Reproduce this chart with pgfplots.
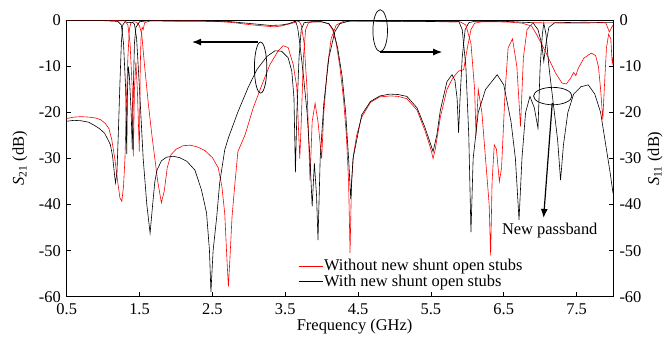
\documentclass[border=0pt]{standalone}
\usepackage{fontspec}
\setmainfont{Liberation Serif}
\usepackage{pgfplots}
\pgfplotsset{compat=1.18}
\usetikzlibrary{arrows.meta}
\begin{document}
\begin{tikzpicture}[font=\fontsize{16.5}{19}\selectfont]
\useasboundingbox (-66.7bp,-42bp) rectangle (601.3bp,296.7bp);
\begin{axis}[at={(0,0)}, anchor=south west, scale only axis,
  width=546.3bp, height=276.3bp,
  xmin=0.5, xmax=8, ymin=-60, ymax=0,
  xtick={0.5,1.5,...,7.5}, ytick={-60,-50,...,0},
  xtick pos=bottom, ytick pos=left,
  tick align=inside, major tick length=4.5bp,
  xticklabel style={/pgf/number format/fixed,/pgf/number format/precision=1,/pgf/number format/fixed zerofill, inner sep=0.5bp, yshift=-6bp},
  yticklabel style={inner sep=0.5bp, xshift=-5.2bp},
  /pgf/number format/assume math mode=true,
  axis line style={line width=0.8pt}, every tick/.style={line width=0.8pt,black},
  xlabel={Frequency (GHz)},
  xlabel style={at={(axis description cs:0.527,-0.108)}, anchor=center},
  ylabel={\textit{S}\textsubscript{21} (dB)},
  ylabel style={at={(axis description cs:-0.0855,0.5)}, anchor=center, rotate=0},
  clip=false,
  legend image code/.code={\draw[#1] (0bp,0bp) -- (24bp,0bp);},
  legend cell align=left,
  legend style={at={(axis cs:3.677,-51.6)}, anchor=north west, draw=none, fill=none,
    inner sep=0pt, row sep=0.5bp, nodes={inner sep=1.2bp},
    /tikz/every even column/.append style={column sep=1bp}},
]
% red S21 (without)
\addplot[red, line width=0.6pt] coordinates {
(0.5,-21.3) (0.6,-21.0) (0.7,-20.9) (0.8,-21.0) (0.9,-21.2) (0.97,-21.6) (1.03,-22.4) (1.08,-23.5) (1.12,-26) (1.16,-30) (1.2,-35) (1.23,-38.5) (1.257,-39.3) (1.28,-36) (1.30,-30) (1.32,-18) (1.34,-8) (1.36,-2) (1.38,-0.6) (1.42,-0.3) (1.46,-0.4) (1.50,-1.2) (1.53,-3) (1.57,-10) (1.62,-18) (1.67,-25) (1.71,-30) (1.75,-35) (1.80,-39.6) (1.84,-37) (1.88,-32) (1.93,-29.2) (2.0,-28) (2.1,-27.2) (2.2,-27.1) (2.3,-27.5) (2.4,-28.3) (2.5,-29.8) (2.58,-32) (2.63,-36) (2.67,-42) (2.70,-52) (2.72,-57.8) (2.74,-52) (2.77,-42.6) (2.81,-35.3) (2.85,-28.5) (2.95,-24.8) (3.06,-19) (3.18,-14) (3.29,-9.6) (3.40,-6.7) (3.47,-5.5) (3.54,-5.9) (3.61,-9.6) (3.66,-14.6) (3.68,-22.7) (3.70,-30) (3.72,-22) (3.75,-8) (3.78,-2) (3.82,-0.5) (3.9,-0.3) (4.0,-0.3) (4.1,-0.8) (4.15,-2) (4.2,-5) (4.25,-10) (4.3,-17) (4.34,-25) (4.37,-35) (4.39,-50.5) (4.41,-35) (4.44,-29) (4.48,-25) (4.55,-21) (4.67,-17.8) (4.8,-16.6) (4.95,-16.4) (5.05,-16.5) (5.17,-17) (5.31,-19.5) (5.42,-24) (5.5,-28) (5.53,-30) (5.56,-28) (5.63,-21) (5.72,-15) (5.8,-12.5) (5.88,-11) (5.95,-10.7) (6.0,-6) (6.05,-2) (6.1,-0.6) (6.2,-0.3) (6.4,-0.3) (6.6,-0.4) (6.75,-0.6) (6.88,-1.2) (6.95,-3) (7.07,-6.7) (7.21,-11.4) (7.3,-13.6) (7.36,-13.8) (7.42,-12.5) (7.46,-11.3) (7.49,-12) (7.52,-10.5) (7.6,-8.2) (7.7,-7.1) (7.76,-7.6) (7.8,-10) (7.83,-15) (7.86,-21.5) (7.88,-15) (7.91,-6) (7.94,-3) (7.97,-4) (7.99,-9.6) (8.0,-8)
};
\addlegendentry{Without new shunt open stubs}
% black S21 (with)
\addplot[black, line width=0.6pt] coordinates {
(0.5,-21.9) (0.6,-21.7) (0.7,-21.8) (0.8,-22.1) (0.88,-22.8) (0.95,-23.5) (1.02,-24.5) (1.07,-26) (1.1,-27) (1.13,-29.5) (1.16,-34) (1.17,-35.3) (1.19,-33) (1.21,-24) (1.23,-14) (1.25,-5) (1.27,-1) (1.3,-0.3) (1.35,-0.5) (1.40,-0.4) (1.43,-0.8) (1.46,-4) (1.5,-15) (1.55,-30) (1.6,-40) (1.645,-46.2) (1.68,-40) (1.71,-35) (1.74,-32.5) (1.8,-30.5) (1.87,-29.7) (1.96,-29.5) (2.05,-29.8) (2.15,-30.6) (2.26,-32.5) (2.35,-36.8) (2.42,-41.8) (2.46,-50) (2.48,-59) (2.51,-50) (2.56,-42.6) (2.6,-35.3) (2.67,-28.1) (2.72,-25.5) (2.85,-19.9) (2.99,-14.6) (3.11,-10.7) (3.25,-7.8) (3.36,-6.6) (3.45,-6.7) (3.54,-8.1) (3.59,-11) (3.62,-16.8) (3.64,-33) (3.66,-20) (3.69,-8) (3.72,-2) (3.76,-0.5) (3.85,-0.3) (4.0,-0.3) (4.1,-0.7) (4.16,-2) (4.22,-6) (4.28,-12) (4.33,-20) (4.37,-30) (4.40,-38.8) (4.43,-30) (4.46,-27.7) (4.55,-20.5) (4.67,-17.6) (4.8,-16.4) (4.94,-16) (5.05,-16.1) (5.17,-16.5) (5.31,-19) (5.42,-23.3) (5.53,-28.5) (5.58,-25) (5.63,-19.5) (5.72,-13.3) (5.79,-11.8) (5.83,-13) (5.86,-17) (5.88,-24.4) (5.9,-17) (5.93,-8) (5.97,-2) (6.02,-0.5) (6.1,-0.2) (6.5,-0.2) (6.9,-0.5) (6.97,-2) (7.02,-5) (7.05,-8.9) (7.08,-5) (7.12,-1.5) (7.2,-0.5) (7.6,-0.4) (8.0,-0.5)
};
\addlegendentry{With new shunt open stubs}
% red S11 (without)
\addplot[red, line width=0.6pt, forget plot] coordinates {
(0.5,-0.05) (1.0,-0.05) (1.3,-0.1) (1.34,-1) (1.37,-5) (1.40,-15) (1.415,-29.5) (1.43,-15) (1.45,-9) (1.47,-15) (1.497,-28.5) (1.51,-10) (1.52,-4) (1.535,-1.5) (1.55,-2) (1.57,-0.5) (1.65,-0.1) (2.5,-0.15) (2.8,-0.5) (3.0,-0.9) (3.2,-1.2) (3.35,-1.4) (3.45,-1.2) (3.55,-0.8) (3.62,-0.5) (3.69,-0.2) (3.72,-1) (3.76,-5) (3.8,-15) (3.84,-34.7) (3.87,-22) (3.91,-18) (3.95,-22) (4.0,-30) (4.03,-20) (4.08,-10) (4.13,-4) (4.2,-1) (4.3,-0.2) (5.9,-0.3) (5.98,-1) (6.05,-5) (6.1,-15) (6.12,-25) (6.15,-15) (6.2,-20) (6.3,-40) (6.32,-51) (6.34,-35) (6.37,-27) (6.4,-28) (6.44,-35) (6.47,-32) (6.52,-15) (6.56,-6) (6.62,-4) (6.68,-10) (6.73,-23) (6.77,-8) (6.82,-2) (6.9,-0.5) (7.5,-0.6) (7.9,-0.5) (7.95,-2.5) (8.0,-1)
};
% black S11 (with)
\addplot[black, line width=0.6pt, forget plot] coordinates {
(0.5,-0.05) (1.0,-0.05) (1.2,-0.2) (1.25,-1) (1.28,-5) (1.31,-15) (1.324,-29) (1.335,-15) (1.346,-10) (1.36,-12) (1.385,-20) (1.40,-28) (1.415,-15) (1.43,-5) (1.45,-1.5) (1.5,-0.3) (1.6,-0.1) (2.7,-0.2) (2.9,-0.5) (3.1,-0.8) (3.3,-1.1) (3.45,-1.0) (3.55,-0.7) (3.62,-0.3) (3.64,-0.1) (3.67,-1.5) (3.7,-5) (3.75,-12) (3.8,-20) (3.84,-30) (3.87,-40.4) (3.9,-31) (3.93,-38) (3.95,-47.7) (3.98,-30) (4.03,-18) (4.1,-8) (4.18,-2.5) (4.25,-0.7) (4.4,-0.05) (5.85,-0.3) (5.88,-0.1) (5.93,-2) (5.98,-10) (6.02,-25) (6.05,-46) (6.08,-30) (6.15,-20) (6.25,-15) (6.41,-11.8) (6.5,-14) (6.6,-22) (6.66,-30) (6.71,-43.3) (6.75,-30) (6.8,-20) (6.86,-16.5) (6.92,-19) (6.97,-23.4) (7.0,-10) (7.03,-3) (7.05,-0.6) (7.08,-3) (7.12,-10) (7.18,-18) (7.24,-26) (7.28,-34.7) (7.32,-27) (7.38,-20) (7.46,-16) (7.56,-14.4) (7.66,-14) (7.75,-16) (7.83,-20) (7.9,-27) (7.96,-33) (8.0,-37.5)
};
% annotations
\draw[line width=0.7pt] (axis cs:3.162,-10.24) ellipse [x radius=6.2bp, y radius=25.5bp];
\draw[line width=1.2pt, -{Latex[length=9bp,width=7bp]}] (axis cs:3.128,-4.7) -- (axis cs:2.221,-4.7);
\draw[line width=0.7pt] (axis cs:4.804,-2.24) ellipse [x radius=7.3bp, y radius=21bp];
\draw[line width=1.2pt, -{Latex[length=9bp,width=7bp]}] (axis cs:4.804,-6.87) -- (axis cs:5.655,-6.87);
\draw[line width=0.7pt] (axis cs:7.173,-16.43) ellipse [x radius=19.2bp, y radius=8.7bp];
\draw[line width=1.2pt, -{Latex[length=9bp,width=7bp]}] (axis cs:7.166,-17.9) -- (axis cs:7.047,-42.9);
\node at (axis cs:7.132,-45.6) {New passband};
\end{axis}
\begin{axis}[at={(0,0)}, anchor=south west, scale only axis,
  width=546.3bp, height=276.3bp,
  xmin=0.5, xmax=8, ymin=-60, ymax=0,
  axis x line=none, axis y line*=right,
  ytick={-60,-50,...,0},
  tick align=inside, major tick length=4.5bp,
  yticklabel style={inner sep=0.5bp, xshift=5.8bp},
  /pgf/number format/assume math mode=true,
  axis line style={line width=0.8pt, -}, every tick/.style={line width=0.8pt,black},
  ylabel={\textit{S}\textsubscript{11} (dB)},
  ylabel style={at={(axis description cs:1.077,0.5)}, anchor=center, rotate=0},
]
\end{axis}
\end{tikzpicture}
\end{document}
